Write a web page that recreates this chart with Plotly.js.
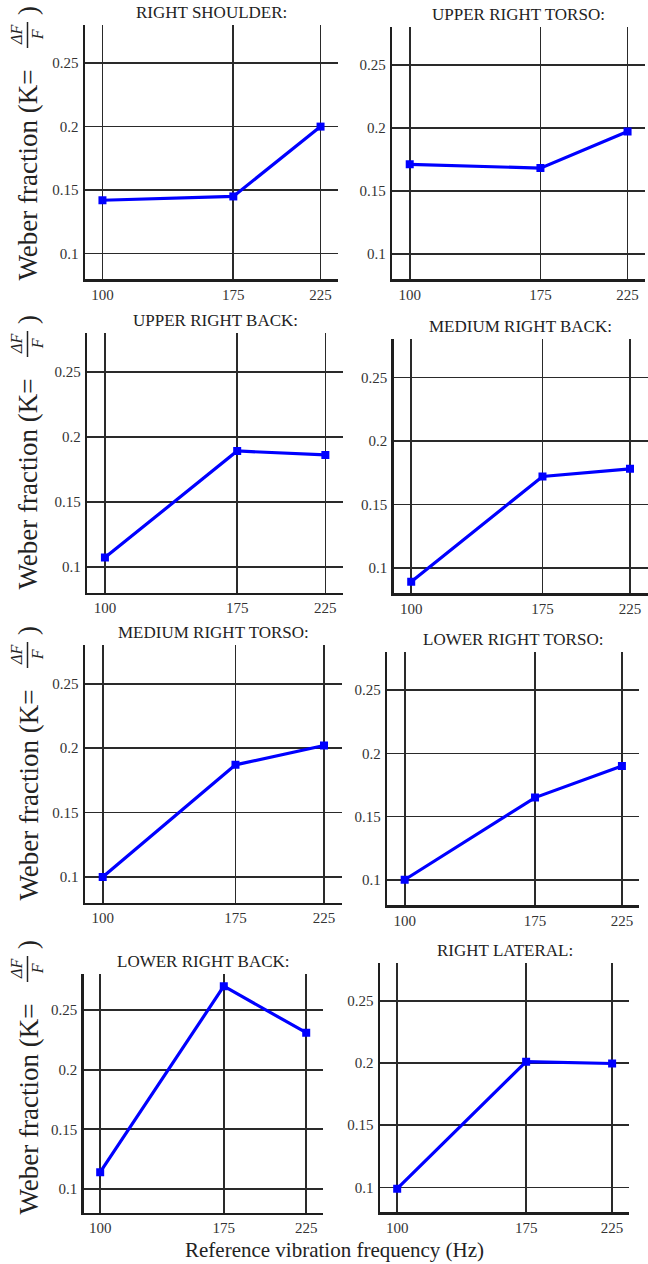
<!DOCTYPE html>
<html>
<head>
<meta charset="utf-8">
<script src="https://cdn.plot.ly/plotly-3.0.1.min.js"></script>
<style>html,body{margin:0;padding:0;background:#fff;}#chart{width:648px;height:1264px;}</style>
</head>
<body>
<div id="chart"></div>
<script>
// ---- data ----
const freq = [100, 175, 225];
const rightShoulder    = [0.142, 0.145, 0.200];
const upperRightTorso  = [0.171, 0.168, 0.197];
const upperRightBack   = [0.107, 0.189, 0.186];
const mediumRightBack  = [0.089, 0.172, 0.178];
const mediumRightTorso = [0.100, 0.187, 0.202];
const lowerRightTorso  = [0.100, 0.165, 0.190];
const lowerRightBack   = [0.114, 0.270, 0.231];
const rightLateral     = [0.099, 0.201, 0.1995];
const panelTitles = ["RIGHT SHOULDER:", "UPPER RIGHT TORSO:", "UPPER RIGHT BACK:", "MEDIUM RIGHT BACK:",
                     "MEDIUM RIGHT TORSO:", "LOWER RIGHT TORSO:", "LOWER RIGHT BACK:", "RIGHT LATERAL:"];
const xTickVals = [100, 175, 225];
const xTickText = ["100", "175", "225"];
const yTickVals = [0.1, 0.15, 0.2, 0.25];
const yTickText = ["0.1", "0.15", "0.2", "0.25"];
const yTitleMain = "Weber fraction (K=";
const yTitleFrac = "<i>ΔF</i><br><i>F</i>";
const yTitleClose = ")";
const xTitle = "Reference vibration frequency (Hz)";
const series = [rightShoulder, upperRightTorso, upperRightBack, mediumRightBack,
                mediumRightTorso, lowerRightTorso, lowerRightBack, rightLateral];

// ---- layout (pixel boxes: left, right, top, bottom) ----
const W = 648, H = 1264;
const boxes = [
  [85, 338, 25, 279], [392.3, 645, 27, 279],
  [87.3, 343, 332.7, 592.7], [393.7, 647.5, 339.3, 593.3],
  [85, 341.7, 645, 902.7], [387.3, 639.3, 652.3, 905],
  [83.7, 322.7, 974.3, 1212.7], [380, 629.3, 963.3, 1212.3]
];
const eqTops = [68, 377, 688, 1002];   // pixel y where "K=" ends (rotated title)
const FONT = "Liberation Serif";

const traces = [];
const layout = {
  width: W, height: H,
  margin: {l: 0, r: 0, t: 0, b: 0},
  paper_bgcolor: "#fff", plot_bgcolor: "#fff",
  showlegend: false,
  font: {family: FONT, color: "#222", size: 15},
  annotations: [],
  shapes: []
};

series.forEach((vals, i) => {
  const n = i + 1;
  const xa = "x" + (n === 1 ? "" : n), ya = "y" + (n === 1 ? "" : n);
  traces.push({
    x: freq, y: vals, xaxis: xa, yaxis: ya,
    type: "scatter", mode: "lines+markers",
    line: {color: "#0000ff", width: 3.2},
    marker: {color: "#0000ff", symbol: "square", size: 8}
  });
  const b = boxes[i];
  const common = {
    showgrid: true, gridcolor: "#2a2a2a", gridwidth: 1.7,
    showline: true, linecolor: "#1e1e1e", linewidth: 2.5,
    zeroline: false, ticks: "", fixedrange: true,
    tickfont: {family: FONT, size: 15, color: "#333"}
  };
  layout["xaxis" + (n === 1 ? "" : n)] = Object.assign({}, common, {
    domain: [b[0] / W, b[1] / W], anchor: ya, range: [90, 235],
    tickmode: "array", tickvals: xTickVals, ticktext: xTickText,
    ticklabelstandoff: 0
  });
  layout["yaxis" + (n === 1 ? "" : n)] = Object.assign({}, common, {
    domain: [1 - b[3] / H, 1 - b[2] / H], anchor: xa, range: [0.08, 0.28],
    tickmode: "array", tickvals: yTickVals, ticktext: yTickText,
    ticklabelstandoff: 1
  });
  layout.annotations.push({
    xref: "paper", yref: "paper",
    x: (b[0] + b[1]) / 2 / W, y: 1 - b[2] / H,
    xanchor: "center", yanchor: "middle", yshift: 12.5,
    text: panelTitles[i], showarrow: false,
    font: {family: FONT, size: 17, color: "#222"}
  });
});

eqTops.forEach(t => {
  layout.annotations.push({
    xref: "paper", yref: "paper", x: 28 / W, y: 1 - t / H,
    xanchor: "center", yanchor: "top", textangle: -90,
    text: yTitleMain, showarrow: false,
    font: {family: FONT, size: 27, color: "#222"}
  });
  layout.annotations.push({
    xref: "paper", yref: "paper", x: 27 / W, y: 1 - (t - 33) / H,
    xanchor: "center", yanchor: "middle", textangle: -90,
    text: yTitleFrac, showarrow: false,
    font: {family: FONT, size: 16, color: "#222"}
  });
  layout.annotations.push({
    xref: "paper", yref: "paper", x: 28 / W, y: 1 - (t - 57) / H,
    xanchor: "center", yanchor: "middle", textangle: -90,
    text: yTitleClose, showarrow: false,
    font: {family: FONT, size: 27, color: "#222"}
  });
  layout.shapes.push({
    type: "line", xref: "paper", yref: "paper",
    x0: 27.5 / W, x1: 27.5 / W, y0: 1 - (t - 20) / H, y1: 1 - (t - 46) / H,
    line: {color: "#222", width: 1.5}
  });
});
layout.annotations.push({
  xref: "paper", yref: "paper", x: 334 / W, y: 1 - 1250 / H,
  xanchor: "center", yanchor: "middle",
  text: xTitle, showarrow: false,
  font: {family: FONT, size: 21, color: "#222"}
});

Plotly.newPlot("chart", traces, layout, {staticPlot: true, displayModeBar: false});
</script>
</body>
</html>
